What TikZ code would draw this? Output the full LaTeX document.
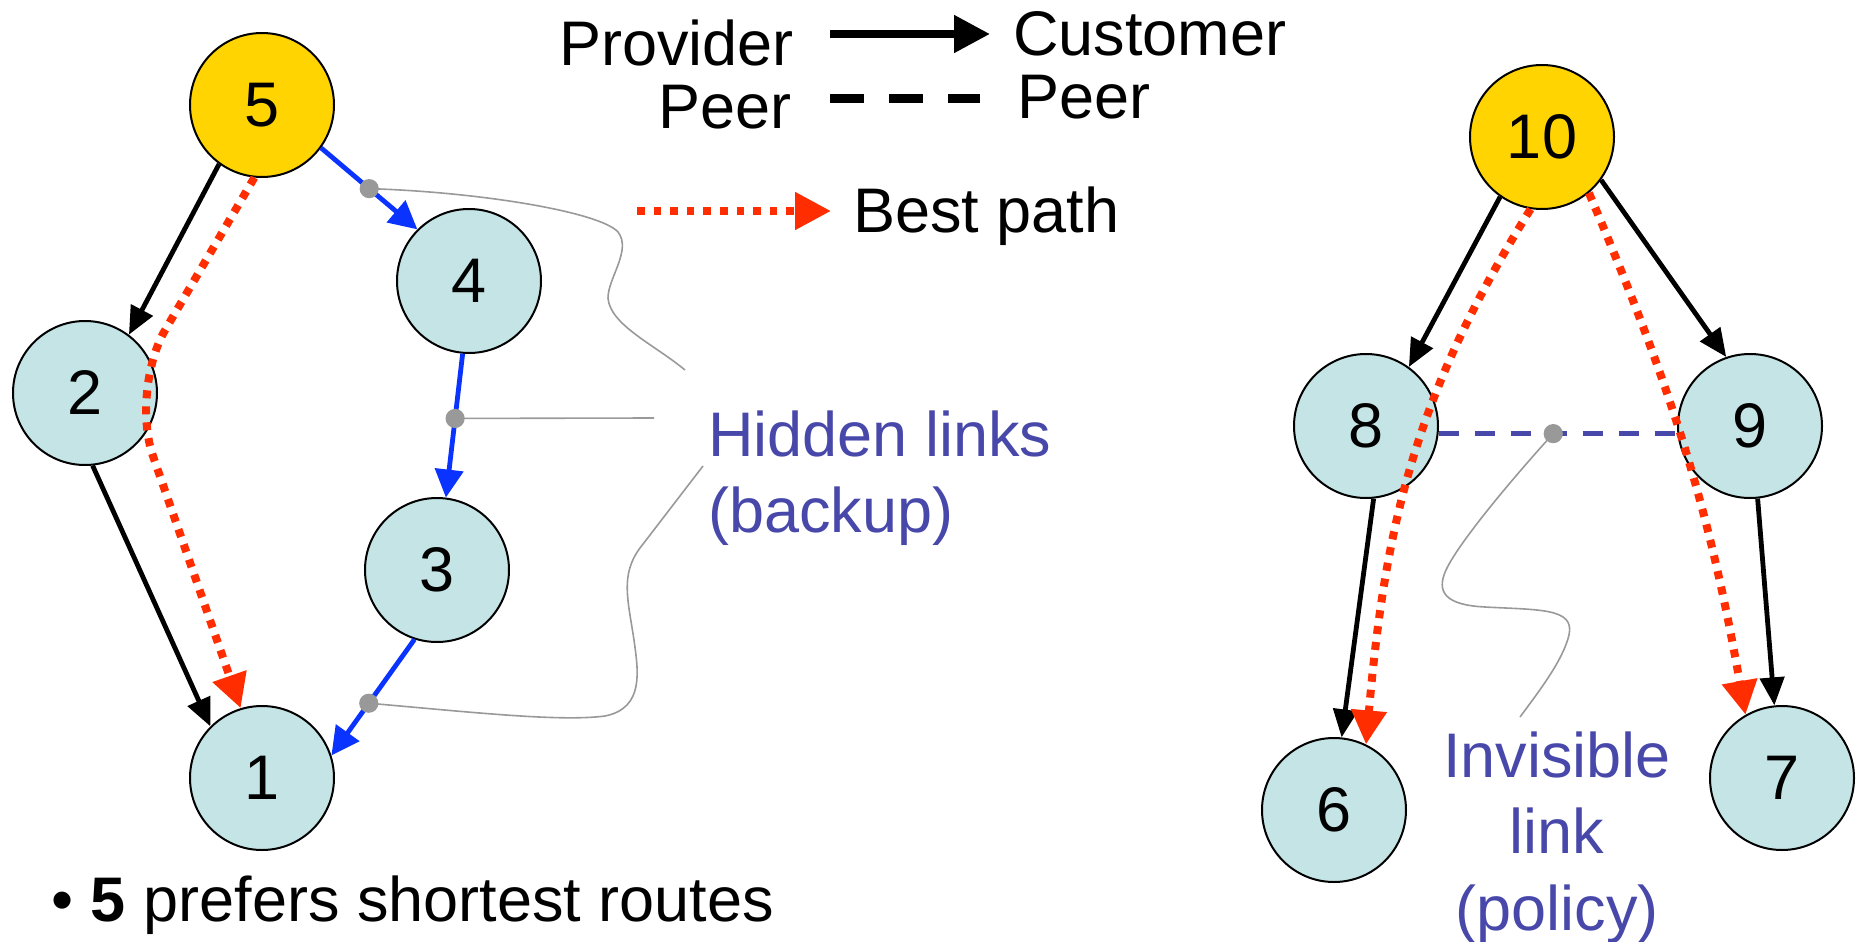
\documentclass[tikz,border=0pt]{standalone}
\usepackage{fontspec}
\setmainfont{Liberation Sans}
\usetikzlibrary{arrows.meta}
\definecolor{nodefill}{HTML}{C4E4E6}
\definecolor{gold}{HTML}{FFD400}
\definecolor{bestred}{HTML}{FF2D00}
\definecolor{linkblue}{HTML}{0A33FF}
\definecolor{textblue}{HTML}{4848AA}
\definecolor{leadgray}{HTML}{999999}
\tikzset{
  asnode/.style={circle, draw=black, line width=1pt, fill=nodefill, minimum size=72pt, inner sep=0pt, font=\fontsize{31.5}{38}\selectfont},
  topnode/.style={asnode, fill=gold},
  txt/.style={inner sep=0pt, font=\fontsize{31.5}{38}\selectfont},
  bluetxt/.style={txt, text=textblue},
  custarrow/.style={line width=2.4pt, -{Triangle[length=14pt,width=12pt]}},
  bluearrow/.style={line width=2.4pt, draw=linkblue, -{Triangle[length=14pt,width=14pt,fill=linkblue]}},
  bestpath/.style={line width=4pt, draw=bestred, dash pattern=on 4pt off 4pt, -{Triangle[length=17pt,width=17pt,fill=bestred]}},
  peerline/.style={line width=2.3pt, draw=textblue, dash pattern=on 10pt off 8pt},
  leader/.style={line width=0.8pt, draw=leadgray},
  gdot/.style={fill=leadgray, draw=none},
}
\begin{document}
\begin{tikzpicture}[x=0.5pt, y=-0.5pt]
\useasboundingbox (0,0) rectangle (1860,942);

% nodes
\node[topnode] (n5) at (262,105) {5};
\node[asnode] (n2) at (85,393) {2};
\node[asnode] (n4) at (469,281) {4};
\node[asnode] (n3) at (437,570) {3};
\node[asnode] (n1) at (262,778) {1};
\node[topnode] (n10) at (1542,137) {10};
\node[asnode] (n8) at (1366,426) {8};
\node[asnode] (n9) at (1750,426) {9};
\node[asnode] (n6) at (1334,810) {6};
\node[asnode] (n7) at (1782,778) {7};

% customer-provider links
\draw[custarrow] (n5.234) -- (n2.53);
\draw[custarrow] (n2.276) -- (n1.135);
\draw[custarrow] (n10.235) -- (n8.54);
\draw[custarrow] (n10.324) -- (n9.109);
\draw[custarrow] (n8.276) -- (n6.84);
\draw[custarrow] (n9.276) -- (n7.96);

% hidden (backup) links
\draw[bluearrow] (n5.324) -- coordinate[pos=0.5] (d1) (n4.135);
\draw[bluearrow] (n4.265) -- coordinate[pos=0.45] (d2) (n3.83);
\draw[bluearrow] (n3.252) -- coordinate[pos=0.55] (d3) (n1.18);

% peer link
\draw[peerline] (n8.354) -- coordinate[pos=0.48] (d4) (n9.186);

% best paths
\coordinate (bend) at (130,390);
\draw[bestpath, rounded corners=35pt] (n5.264) -- (bend) -- (n1.107);
\draw[bestpath] (n10.261) to[out=238, in=85] (n6.64);
\draw[bestpath] (n10.310) to[out=293, in=100] (n7.120);

% leader lines
\coordinate (h1) at (685,370);
\coordinate (h2) at (654,418);
\coordinate (h3) at (703,466);
\coordinate (h4) at (1520,717);
\draw[leader] (d1) .. controls (480,192) and (600,212) .. (618,232)
  .. controls (632,250) and (608,278) .. (608,298)
  .. controls (610,325) and (655,345) .. (h1);
\draw[leader] (d2) -- (h2);
\draw[leader] (d3) .. controls (470,712) and (560,722) .. (605,716)
  .. controls (645,708) and (638,670) .. (634,640)
  .. controls (628,600) and (620,575) .. (640,548)
  -- (h3);
\draw[leader] (d4) .. controls (1520,470) and (1460,540) .. (1446,570)
  .. controls (1436,592) and (1445,605) .. (1485,607)
  .. controls (1540,610) and (1575,608) .. (1569,635)
  .. controls (1563,660) and (1540,690) .. (h4);

\fill[gdot] (d1) circle (4.8pt);
\fill[gdot] (d2) circle (4.8pt);
\fill[gdot] (d3) circle (4.8pt);
\fill[gdot] (d4) circle (4.8pt);

% legend
\node[txt, anchor=base east] (lprov) at (794,65) {Provider};
\node[txt, anchor=base west] (lcust) at (1013,55) {Customer};
\node[txt, anchor=base east] (lpeer1) at (792,128) {Peer};
\node[txt, anchor=base west] (lpeer2) at (1017,118) {Peer};
\node[txt, anchor=base west] (lbest) at (853,232) {Best path};
\coordinate (a1s) at (830,34);
\coordinate (a1e) at (990,34);
\coordinate (a2s) at (830,98);
\coordinate (a2e) at (980,98);
\coordinate (a3s) at (637,211);
\coordinate (a3e) at (831,211);
\draw[line width=4pt, -{Triangle[length=18pt,width=18pt]}] (a1s) -- (a1e);
\draw[line width=4.5pt, dash pattern=on 17pt off 12.5pt] (a2s) -- (a2e);
\draw[line width=4pt, draw=bestred, dash pattern=on 3.8pt off 4.5pt, -{Triangle[length=18pt,width=18pt,fill=bestred]}] (a3s) -- (a3e);

% blue labels
\node[bluetxt, anchor=base west] (hid1) at (708,456) {Hidden links};
\node[bluetxt, anchor=base west] (hid2) at (708,532) {(backup)};
\node[bluetxt, anchor=base] (inv1) at (1557,777) {Invisible};
\node[bluetxt, anchor=base] (inv2) at (1557,853) {link};
\node[bluetxt, anchor=base] (inv3) at (1557,930) {(policy)};

% bullet
\node[txt, anchor=base west] (bul) at (51,921) {• \textbf{5} prefers shortest routes};
\end{tikzpicture}
\end{document}
